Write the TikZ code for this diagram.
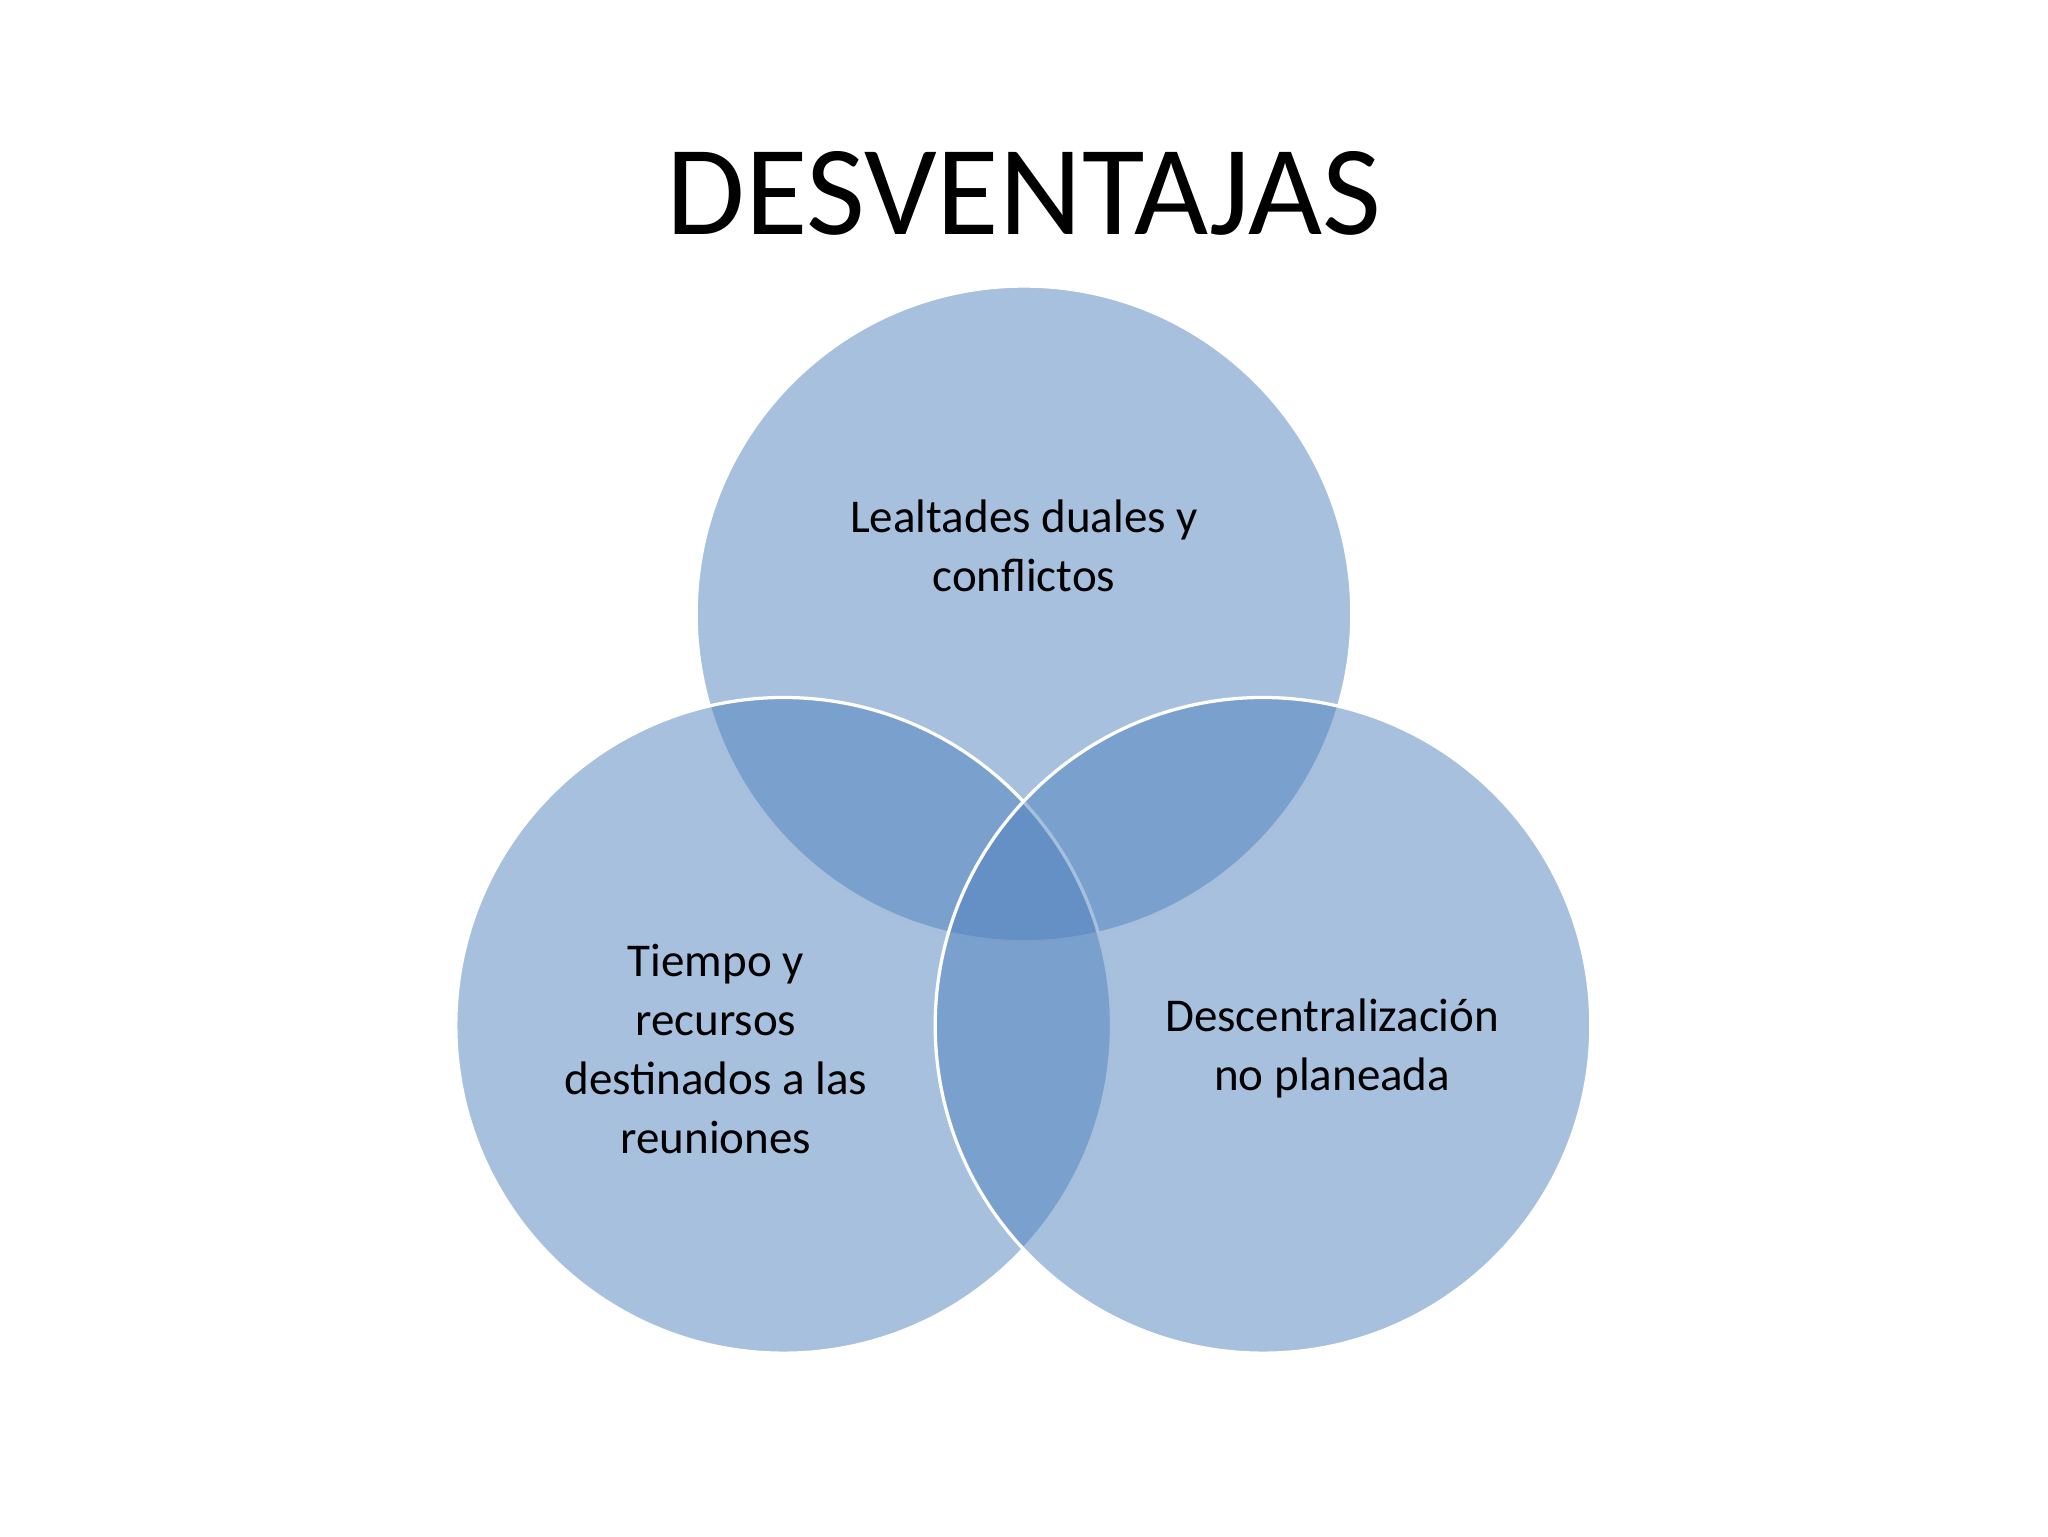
\documentclass[tikz,border=0pt]{standalone}
\usepackage{fontspec}
\setmainfont{Carlito}
\definecolor{venn}{HTML}{4F81BD}
\tikzset{
  venncircle/.style={circle, minimum size=502pt, fill=venn, fill opacity=0.5, draw=white, line width=2.5pt, draw opacity=1},
  lbl/.style={font=\fontsize{36}{45}\selectfont, align=center, text=black}
}
\begin{document}
\begin{tikzpicture}[x=1pt,y=-1pt]
\useasboundingbox (0,0) rectangle (1568,1176);
\node (title) at (784,148) {\fontsize{98}{110}\selectfont DESVENTAJAS};
\node[venncircle] (top) at (784,470) {};
\node[venncircle] (left) at (600,785) {};
\node[venncircle] (right) at (967,785) {};
\node[lbl] (t1) at (784,418) {Lealtades duales y\\conflictos};
\node[lbl] (t2) at (548,803) {Tiempo y\\recursos\\destinados a las\\reuniones};
\node[lbl] (t3) at (1020,803) {Descentralización\\no planeada};
\end{tikzpicture}
\end{document}
